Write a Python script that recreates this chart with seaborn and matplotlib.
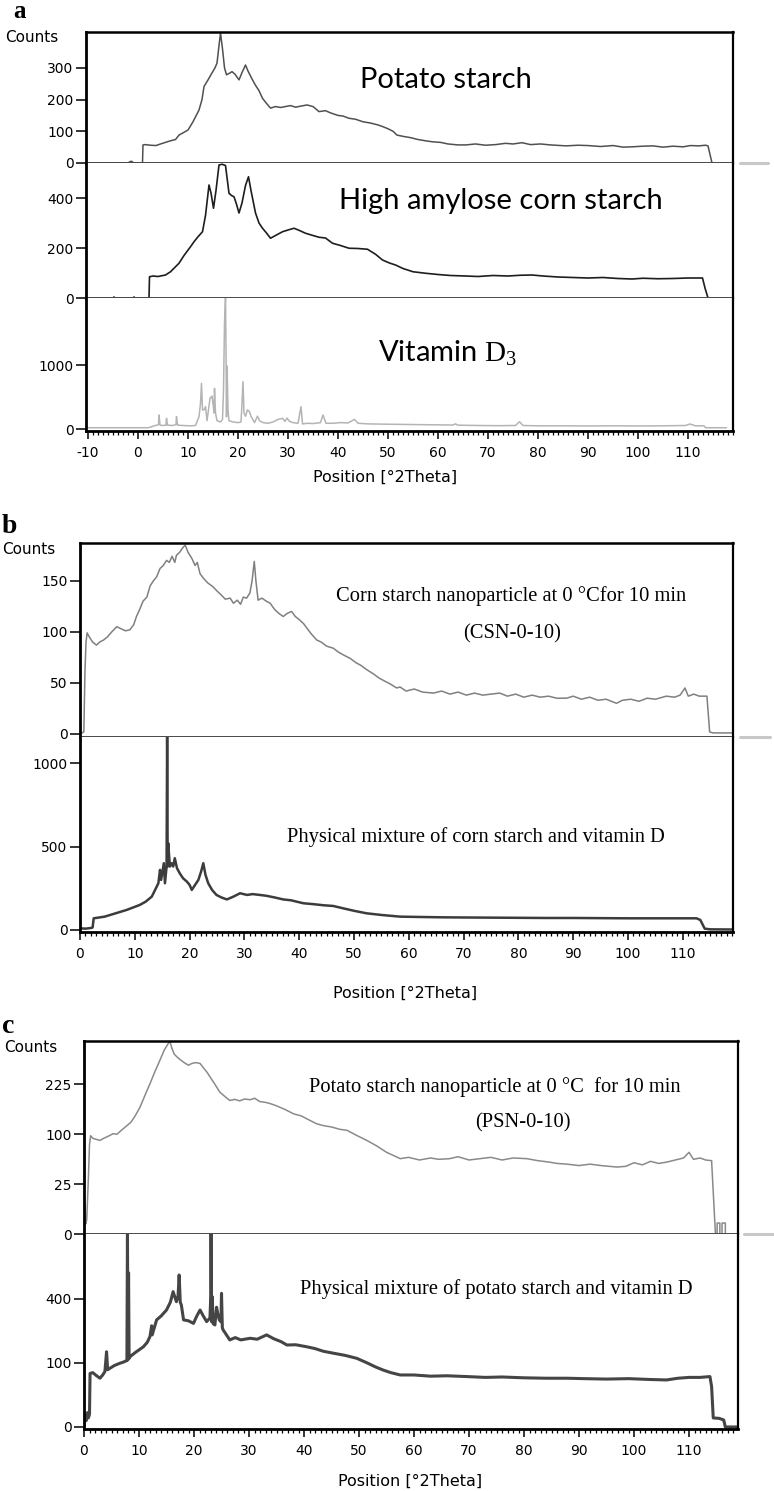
import numpy as np
import matplotlib
matplotlib.use("Agg")
import matplotlib.pyplot as plt
from matplotlib.ticker import MultipleLocator, FixedLocator
from matplotlib.lines import Line2D
import seaborn as sns

# ---------------- data ----------------
POTATO = [(-10, 0), (-2.0, 0), (-1.5, 5), (-1.2, 5), (-0.9, 0), (0.9, 0), (1.0, 57), (1.5, 58), (2.5, 56),
          (3.6, 55), (4.5, 60), (5.5, 65), (6.5, 70), (7.5, 74), (8.2, 88), (9.0, 95), (10.0, 104), (11.0, 130),
          (12.2, 167), (12.8, 200), (13.2, 241), (14.0, 262), (14.8, 284), (15.4, 300), (15.8, 315), (16.2, 370),
          (16.5, 410), (16.9, 360), (17.3, 300), (17.7, 278), (18.3, 283), (18.8, 288), (19.4, 280), (20.2, 262),
          (20.8, 285), (21.5, 309), (22.0, 290), (22.9, 262), (23.5, 245), (24.2, 228), (24.9, 204), (25.7, 188),
          (26.5, 173), (27.5, 178), (28.5, 175), (29.5, 178), (30.5, 181), (31.5, 176), (32.8, 180), (33.8, 183),
          (35.0, 178), (36.2, 162), (37.5, 165), (38.5, 158), (40.0, 150), (41.0, 148), (42.2, 141), (43.5, 138),
          (45.0, 130), (46.5, 126), (48.0, 120), (48.9, 115), (50.0, 108), (51.0, 100), (51.8, 88), (53.0, 84),
          (54.5, 80), (56.0, 74), (57.5, 70), (58.8, 67), (60.5, 65), (62.0, 60), (64.0, 57), (65.6, 57),
          (67.5, 60), (69.5, 56), (71.5, 58), (73.5, 62), (75.0, 60), (76.8, 64), (78.5, 58), (80.5, 60),
          (82.5, 57), (85.6, 54), (88.0, 56), (90.0, 55), (92.5, 52), (95.0, 55), (97.0, 50), (98.8, 51),
          (101.0, 53), (103.0, 54), (105.0, 50), (107.0, 53), (109.0, 51), (110.5, 55), (112.2, 54), (113.5, 56),
          (114.0, 54), (114.8, 0), (119, 0)]

HIGH_AMYLOSE = [(-10, 0), (-5, 0), (-4.8, 4), (-4.6, 0), (-1, 0), (-0.8, 4), (-0.6, 0), (2.2, 0), (2.3, 85),
                (3, 88), (4, 86), (5.5, 92), (6.5, 105), (7.5, 125), (8.2, 139), (9.2, 170), (10.5, 205),
                (11.2, 225), (12.0, 245), (12.9, 265), (13.5, 330), (14.2, 452), (14.6, 420), (15.1, 359),
                (15.6, 430), (16.2, 532), (16.8, 535), (17.5, 530), (18.2, 419), (18.7, 410), (19.2, 405),
                (19.7, 375), (20.2, 340), (20.8, 380), (21.5, 450), (22.1, 485), (22.6, 430), (23.5, 340),
                (24.2, 300), (24.9, 279), (25.7, 260), (26.5, 239), (27.5, 250), (28.9, 265), (30.0, 272),
                (31.2, 279), (32.3, 270), (33.5, 259), (35.0, 250), (36.2, 243), (37.5, 240), (38.9, 219),
                (40.5, 210), (42.2, 199), (44.0, 198), (45.9, 195), (47.5, 175), (48.9, 152), (50.3, 140),
                (51.5, 132), (53, 118), (55, 105), (57.5, 99), (60, 94), (62.5, 90), (65.5, 88), (68, 86),
                (71, 90), (74, 88), (76.5, 91), (78.8, 92), (81, 88), (84, 84), (87, 82), (90, 80), (93, 82),
                (96, 78), (98.8, 76), (101, 79), (104, 77), (107, 78), (110, 80), (112.9, 80), (113.4, 40),
                (114, 0), (119, 0)]

VITAMIN_D3 = [(-10, 20), (2, 20), (2.5, 30), (3.2, 50), (3.8, 60), (4.1, 70), (4.2, 219), (4.4, 60), (5.0, 55),
              (5.6, 60), (5.7, 167), (5.9, 60), (7.0, 55), (7.6, 70), (7.7, 193), (7.9, 60), (9, 55), (10.5, 50),
              (11.5, 55), (12.2, 193), (12.5, 400), (12.7, 713), (12.9, 297), (13.2, 300), (13.5, 349),
              (13.8, 130), (14.1, 300), (14.4, 479), (14.8, 515), (15.0, 400), (15.2, 250), (15.3, 635),
              (15.5, 250), (15.8, 130), (16.5, 110), (16.9, 150), (17.1, 600), (17.3, 1650), (17.5, 2064),
              (17.6, 1265), (17.7, 190), (17.8, 984), (18.0, 300), (18.2, 130), (19, 110), (20, 100),
              (20.6, 110), (20.8, 400), (21.0, 740), (21.2, 250), (21.5, 200), (21.9, 300), (22.3, 270),
              (22.6, 200), (23.3, 100), (23.9, 200), (24.3, 130), (25, 100), (26, 90), (27, 110), (28, 150),
              (28.9, 167), (29.4, 120), (29.8, 170), (30.3, 120), (31, 100), (32, 90), (32.6, 349), (32.9, 80),
              (34, 90), (35, 85), (36.5, 100), (37, 219), (37.6, 90), (39, 90), (40.5, 100), (42, 95),
              (43.3, 150), (44, 90), (46, 80), (50, 75), (55, 70), (60, 65), (63, 62), (63.5, 80), (64, 60),
              (68, 55), (72, 52), (75.5, 55), (76.3, 114), (77, 55), (80, 50), (85, 50), (90, 48), (95, 50),
              (100, 48), (105, 50), (109.5, 55), (110.4, 78), (111.5, 50), (113.2, 50), (113.5, 20), (117.7, 20)]

CSN_0_10 = [(0, 0), (0.7, 2), (0.9, 60), (1.1, 90), (1.3, 99), (1.7, 95), (2.3, 90), (3.0, 87), (3.6, 90),
            (4.3, 92), (5, 95), (5.8, 100), (6.7, 105), (7.5, 103), (8.3, 101), (9.1, 102), (9.8, 107),
            (10.3, 115), (10.9, 122), (11.5, 130), (12.2, 134), (12.8, 145), (13.4, 150), (14.0, 154),
            (14.6, 162), (15.2, 165), (15.8, 170), (16.3, 168), (16.8, 174), (17.3, 168), (17.6, 175),
            (18.2, 178), (18.7, 182), (19.2, 185), (19.7, 178), (20.4, 172), (21.0, 165), (21.4, 168),
            (21.9, 157), (22.6, 152), (23.3, 148), (24.3, 144), (25, 140), (25.8, 136), (26.5, 132),
            (27.4, 133), (28, 128), (28.7, 131), (29.3, 127), (29.8, 134), (30.4, 133), (31.0, 138),
            (31.4, 150), (31.8, 169), (32.1, 150), (32.5, 131), (33.2, 133), (34.0, 130), (34.7, 128),
            (35.5, 122), (36.3, 118), (37.1, 115), (37.8, 118), (38.6, 120), (39.3, 115), (40.0, 112),
            (40.8, 108), (41.5, 103), (42.2, 98), (43.2, 92), (44.0, 90), (45.0, 86), (46.2, 84), (47.2, 80),
            (48.2, 77), (49.3, 74), (50.3, 70), (51.3, 67), (52.3, 63), (53.5, 59), (54.5, 55), (55.5, 52),
            (56.6, 49), (57.8, 45), (58.4, 46), (59.5, 42), (61, 44), (62.5, 41), (64.5, 40), (66, 42),
            (67.5, 39), (69, 41), (70.5, 38), (72, 40), (73.5, 38), (75, 39), (76.6, 40), (78, 37), (79.5, 39),
            (81, 36), (82.5, 38), (84, 36), (85.5, 37), (87, 35), (88.8, 35), (90, 37), (91.5, 34), (93, 36),
            (94.5, 33), (96, 34), (97.9, 30), (99, 33), (100.5, 34), (102, 32), (103.5, 35), (105, 34),
            (107, 37), (108.5, 36), (109.5, 38), (110.4, 45), (111, 37), (112, 39), (113, 37), (114.4, 37),
            (114.9, 2), (115.5, 1), (119, 1)]

MIX_CORN = [(0, 10), (1, 8), (2, 12), (2.3, 15), (2.5, 70), (3.5, 75), (4.5, 80), (5.5, 90), (6.5, 100),
            (7.5, 110), (8.5, 120), (9.7, 135), (10.9, 150), (12.0, 170), (13.1, 200), (13.7, 240), (14.3, 280),
            (14.6, 360), (14.8, 300), (15.3, 400), (15.5, 280), (15.8, 380), (15.9, 1160), (16.0, 380),
            (16.1, 520), (16.4, 380), (16.7, 400), (17.0, 380), (17.3, 430), (17.7, 370), (18.2, 340),
            (18.8, 310), (19.5, 290), (20.0, 270), (20.4, 240), (21.0, 270), (21.6, 300), (22.1, 350),
            (22.5, 400), (22.9, 330), (23.4, 280), (24.1, 240), (24.9, 210), (25.8, 195), (26.8, 183),
            (28, 200), (29.2, 220), (30.5, 210), (31.5, 215), (32.8, 210), (34.0, 205), (35.5, 195),
            (37.1, 183), (38.5, 178), (39.5, 170), (40.8, 160), (42.5, 155), (44.5, 148), (46.2, 144),
            (48, 130), (50, 115), (52.3, 100), (55, 90), (58.4, 80), (62, 78), (66, 76), (70, 75), (75, 74),
            (80, 73), (85, 72), (90, 72), (95, 71), (100, 70), (105, 70), (110, 70), (112.5, 70), (113.2, 60),
            (114, 8), (115, 4), (119, 3)]

PSN_0_10 = [(0, 0), (0.2, 8), (0.3, 1), (0.5, 2), (0.8, 32), (1.0, 80), (1.2, 97), (1.6, 92), (2.2, 90),
            (2.9, 88), (3.6, 92), (4.4, 96), (5.3, 101), (6.0, 100), (6.8, 108), (7.8, 118), (8.5, 125),
            (9.3, 140), (10.2, 162), (11.0, 190), (12.0, 227), (12.9, 265), (13.8, 303), (14.6, 340),
            (15.2, 360), (15.6, 375), (16.0, 345), (16.4, 325), (16.9, 315), (17.5, 305), (18.2, 295),
            (19.0, 286), (19.6, 292), (20.3, 295), (21.1, 292), (21.8, 275), (22.4, 262), (22.9, 248),
            (23.8, 225), (24.7, 202), (25.6, 190), (26.5, 179), (27.4, 182), (28.3, 178), (29.2, 183),
            (30.2, 181), (31.0, 185), (32.0, 176), (33.0, 174), (33.8, 171), (35.0, 165), (36.5, 156),
            (38.1, 145), (39.5, 140), (41, 130), (42.3, 122), (43.5, 118), (45, 115), (46.5, 110), (47.8, 108),
            (49.5, 98), (51.4, 88), (53.2, 78), (55, 67), (57.5, 57), (59, 59), (61, 55), (63, 58), (64.5, 56),
            (66.5, 57), (68, 60), (70, 55), (72, 57), (74, 59), (76, 55), (78, 58), (80.5, 57), (82.5, 54),
            (84.5, 52), (86, 50), (87.8, 49), (90, 47), (92, 49), (94, 47), (96.9, 45), (98.5, 46), (100, 51),
            (101.5, 48), (103, 53), (104.5, 50), (106, 52), (107.5, 55), (109, 58), (110, 67), (110.8, 56),
            (112, 58), (113, 55), (114.1, 54), (114.8, 0), (115.1, 0), (115.1, 1.2), (115.6, 1.2), (115.6, 0),
            (116.0, 0), (116.0, 1.2), (116.6, 1.2), (116.6, 0), (119, 0)]

MIX_POTATO = [(0, 0), (0.2, 3), (0.4, 1), (0.6, 5), (0.8, 2), (1.0, 4), (1.1, 70), (1.6, 72), (2.2, 65),
              (2.9, 58), (3.4, 66), (3.8, 75), (4.1, 138), (4.3, 80), (4.7, 84), (5.5, 92), (6.5, 99),
              (7.2, 103), (7.8, 108), (7.9, 910), (8.0, 110), (8.1, 580), (8.2, 115), (8.4, 121), (9.3, 135),
              (10.0, 145), (10.8, 157), (11.5, 175), (12.0, 200), (12.3, 250), (12.4, 207), (13.2, 280),
              (14.0, 300), (15.0, 334), (15.7, 380), (16.2, 447), (16.8, 383), (17.1, 420), (17.3, 564),
              (17.5, 380), (17.7, 363), (18.1, 280), (19.0, 275), (19.9, 262), (20.5, 300), (21.1, 334),
              (21.7, 300), (22.3, 271), (22.9, 290), (23.05, 420), (23.1, 910), (23.2, 270), (23.3, 415),
              (23.5, 260), (23.8, 254), (24.1, 350), (24.3, 317), (24.6, 280), (24.9, 270), (25.0, 436),
              (25.15, 240), (25.3, 230), (26.5, 185), (27.5, 195), (28.5, 185), (30.2, 192), (31.5, 188),
              (33.2, 207), (34.5, 190), (35.8, 178), (36.9, 164), (38.5, 165), (40.5, 157), (42, 150),
              (43.5, 140), (45.3, 133), (47.5, 125), (49.6, 115), (51.5, 100), (53, 88), (54.4, 79), (55.8, 72),
              (57.5, 66), (60, 66), (63, 63), (66, 64), (69.6, 62), (73, 60), (76, 61), (80, 59), (84, 58),
              (87.8, 58), (91, 57), (95, 56), (99, 57), (103, 55), (105.9, 54), (108, 58), (110, 60), (112, 60),
              (113.8, 62), (114.1, 40), (114.4, 2), (115.5, 1.8), (116.3, 1.2), (116.6, 0), (119, 0)]

LABEL_POTATO = "Potato starch"
LABEL_HA = "High amylose corn starch"
LABEL_VD = r"Vitamin $\mathrm{D}_{3}$"
LABEL_CSN = "Corn starch nanoparticle at 0 \u00b0Cfor 10 min"
LABEL_CSN2 = "(CSN-0-10)"
LABEL_MIXC = "Physical mixture of corn starch and vitamin D"
LABEL_PSN = "Potato starch nanoparticle at 0 \u00b0C  for 10 min"
LABEL_PSN2 = "(PSN-0-10)"
LABEL_MIXP = "Physical mixture of potato starch and vitamin D"
XLABEL = "Position [\u00b02Theta]"
YLABEL = "Counts"
XTICKS_A = [-10, 0, 10, 20, 30, 40, 50, 60, 70, 80, 90, 100, 110]
XTICKS_BC = [0, 10, 20, 30, 40, 50, 60, 70, 80, 90, 100, 110]

# ---------------- style ----------------
sns.set_theme(style="white")
plt.rcParams["font.family"] = ["DejaVu Sans"]
plt.rcParams["mathtext.fontset"] = "custom"
plt.rcParams["mathtext.rm"] = "Liberation Serif"
plt.rcParams["mathtext.it"] = "Liberation Serif:italic"

W, H = 774, 1491
fig = plt.figure(figsize=(W / 100, H / 100), dpi=100)
fig.patch.set_facecolor("white")


def add_ax(l, r, t, b):
    return fig.add_axes([l / W, 1 - b / H, (r - l) / W, (b - t) / H])


def sqrt_scale(ax):
    f = lambda v: np.sign(v) * np.sqrt(np.abs(v))
    g = lambda v: np.sign(v) * v ** 2
    ax.set_yscale("function", functions=(f, g))


def draw(ax, data, color, lw):
    xs = [p[0] for p in data]
    ys = [p[1] for p in data]
    sns.lineplot(x=xs, y=ys, ax=ax, color=color, linewidth=lw, estimator=None, sort=False)
    ax.set_xlabel("")
    ax.set_ylabel("")


def style(ax, xlim, ylim, yticks, first, last, xticks):
    ax.set_xlim(*xlim)
    ax.set_ylim(*ylim)
    ax.set_facecolor("white")
    ax.yaxis.set_major_locator(FixedLocator(yticks))
    ax.yaxis.set_minor_locator(FixedLocator([]))
    ax.set_yticklabels([str(t) for t in yticks])
    ax.tick_params(axis="y", which="major", left=True, direction="out", length=7, width=1.1,
                   color="black", labelsize=10, pad=2, labelcolor="black")
    for s in ["left", "right", "top", "bottom"]:
        ax.spines[s].set_visible(True)
    ax.spines["left"].set_color("black")
    ax.spines["left"].set_linewidth(2.0)
    ax.spines["right"].set_color("black")
    ax.spines["right"].set_linewidth(1.6)
    if first:
        ax.spines["top"].set_color("black")
        ax.spines["top"].set_linewidth(1.8)
    else:
        ax.spines["top"].set_visible(False)
    if last:
        ax.spines["bottom"].set_color("black")
        ax.spines["bottom"].set_linewidth(2.0)
        ax.xaxis.set_major_locator(FixedLocator(xticks))
        ax.xaxis.set_minor_locator(MultipleLocator(1))
        ax.set_xticklabels([str(t) for t in xticks])
        ax.tick_params(axis="x", which="major", bottom=True, direction="out", length=6, width=1.1,
                       color="black", labelsize=10, pad=5, labelcolor="black")
        ax.tick_params(axis="x", which="minor", bottom=True, direction="out", length=3, width=0.9,
                       color="black")
    else:
        ax.spines["bottom"].set_color("#4a4a4a")
        ax.spines["bottom"].set_linewidth(1.4)
        ax.tick_params(axis="x", which="both", bottom=False, labelbottom=False)


def ftext(px, py, s, **kw):
    fig.text(px / W, 1 - py / H, s, **kw)


def grey_tail(x0, x1, y):
    fig.add_artist(Line2D([x0 / W, x1 / W], [1 - y / H, 1 - y / H], color="#c8c8c8", lw=2.2,
                          transform=fig.transFigure))


# ---------------- panel a ----------------
XL_A = (-10.4, 119.0)
a1 = add_ax(86, 733, 32, 163)
draw(a1, POTATO, "#505050", 1.1)
style(a1, XL_A, (0, 413), [0, 100, 200, 300], True, False, XTICKS_A)
a2 = add_ax(86, 733, 163, 298)
draw(a2, HIGH_AMYLOSE, "#1e1e1e", 1.2)
style(a2, XL_A, (0, 540), [0, 200, 400], False, False, XTICKS_A)
a3 = add_ax(86, 733, 298, 431)
draw(a3, VITAMIN_D3, "#b4b4b4", 1.1)
style(a3, XL_A, (-31, 2047), [0, 1000], False, True, XTICKS_A)
grey_tail(740, 768, 163)

sans = ["Lato", "DejaVu Sans"]
ftext(446, 88, LABEL_POTATO, family=sans, fontsize=21, ha="center", va="baseline", color="black")
ftext(501, 209, LABEL_HA, family=sans, fontsize=21, ha="center", va="baseline", color="black")
ftext(447, 362, LABEL_VD, family=sans, fontsize=21, ha="center", va="baseline", color="black")
ftext(385, 477, XLABEL, fontsize=11.5, ha="center", va="center", color="black")
ftext(5, 37, YLABEL, fontsize=11, ha="left", va="center", color="black")
ftext(13, 18, "a", family=["Liberation Serif"], fontweight="bold", fontsize=18, ha="left",
      va="baseline", color="black")

# ---------------- panel b ----------------
XL_B = (0, 119.16)
b1 = add_ax(80, 733, 543, 737)
draw(b1, CSN_0_10, "#808080", 1.1)
style(b1, XL_B, (-3, 187), [0, 50, 100, 150], True, False, XTICKS_BC)
b2 = add_ax(80, 733, 737, 932)
draw(b2, MIX_CORN, "#3c3c3c", 1.8)
style(b2, XL_B, (-12, 1156), [0, 500, 1000], False, True, XTICKS_BC)
grey_tail(740, 770, 737)

serif = ["Liberation Serif", "DejaVu Serif"]
ftext(511, 601, LABEL_CSN, family=serif, fontsize=14.8, ha="center", va="baseline", color="black")
ftext(512, 638, LABEL_CSN2, family=serif, fontsize=14.8, ha="center", va="baseline", color="black")
ftext(476, 842, LABEL_MIXC, family=serif, fontsize=14.8, ha="center", va="baseline", color="black")
ftext(405, 993, XLABEL, fontsize=11.5, ha="center", va="center", color="black")
ftext(2, 549, YLABEL, fontsize=11, ha="left", va="center", color="black")
ftext(2, 533, "b", family=["Liberation Serif"], fontweight="bold", fontsize=20, ha="left",
      va="baseline", color="black")

# ---------------- panel c ----------------
XL_C = (0, 118.9)
c1 = add_ax(84, 738, 1041, 1234)
sqrt_scale(c1)
draw(c1, PSN_0_10, "#8a8a8a", 1.1)
style(c1, XL_C, (0, 374), [0, 25, 100, 225], True, False, XTICKS_BC)
c2 = add_ax(84, 738, 1234, 1429)
sqrt_scale(c2)
draw(c2, MIX_POTATO, "#454545", 2.2)
style(c2, XL_C, (-0.1, 909), [0, 100, 400], False, True, XTICKS_BC)
grey_tail(744, 774, 1234)

ftext(495, 1092, LABEL_PSN, family=serif, fontsize=14.8, ha="center", va="baseline", color="black")
ftext(523, 1127, LABEL_PSN2, family=serif, fontsize=14.8, ha="center", va="baseline", color="black")
ftext(496, 1294, LABEL_MIXP, family=serif, fontsize=14.8, ha="center", va="baseline", color="black")
ftext(410, 1481, XLABEL, fontsize=11.5, ha="center", va="center", color="black")
ftext(4, 1048, YLABEL, fontsize=11, ha="left", va="center", color="black")
ftext(2, 1033, "c", family=["Liberation Serif"], fontweight="bold", fontsize=20, ha="left",
      va="baseline", color="black")

fig.savefig("out.png", dpi=100, facecolor="white")
